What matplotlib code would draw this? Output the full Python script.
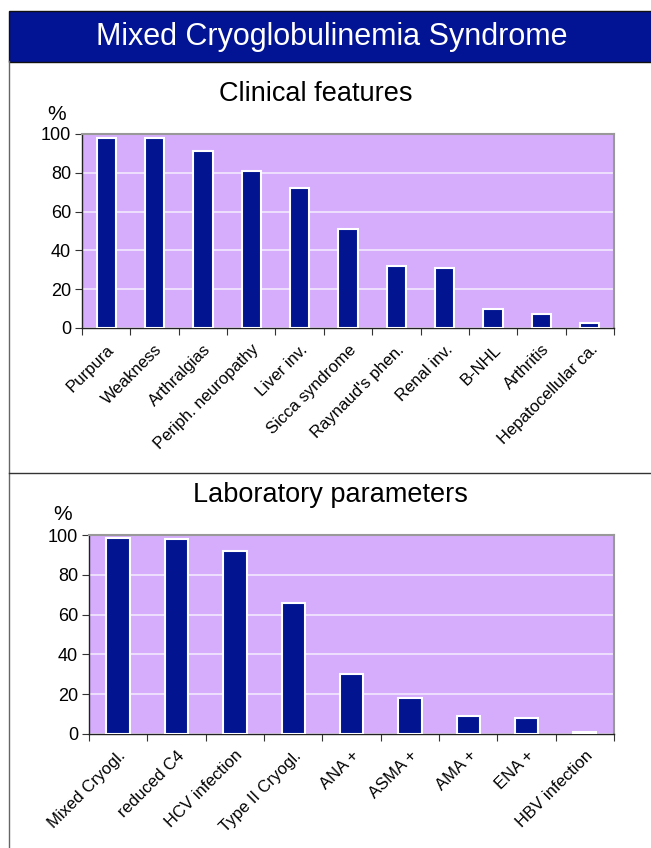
import numpy as np
import matplotlib.pyplot as plt
import matplotlib.transforms as mtransforms
from matplotlib.patches import Rectangle
from matplotlib.lines import Line2D

plt.rcParams['font.family'] = ['Liberation Sans', 'DejaVu Sans']

clin_labels = ['Purpura', 'Weakness', 'Arthralgias', 'Periph. neuropathy', 'Liver inv.',
               'Sicca syndrome', "Raynaud's phen.", 'Renal inv.', 'B-NHL', 'Arthritis',
               'Hepatocellular ca.']
clin_values = [98, 98, 91, 81, 72, 51, 32, 31, 10, 7, 2.5]

lab_labels = ['Mixed Cryogl.', 'reduced C4', 'HCV infection', 'Type II Cryogl.', 'ANA +',
              'ASMA +', 'AMA +', 'ENA +', 'HBV infection']
lab_values = [98.5, 98, 92, 66, 30, 18, 9, 8, 1]

yticks = [0, 20, 40, 60, 80, 100]

W, H = 651, 848
fig = plt.figure(figsize=(W / 100, H / 100), dpi=100)
fig.patch.set_facecolor('white')

def px(x0, y0, x1, y1):
    # pixel box (top-left origin) -> figure fraction rect
    return [x0 / W, 1 - y1 / H, (x1 - x0) / W, (y1 - y0) / H]

# header band and frame lines
fig.add_artist(Rectangle((8.5 / W, 1 - 61.5 / H), 1, 50.5 / H, transform=fig.transFigure,
                         facecolor='#021394', edgecolor='#111111', linewidth=1.0))
fig.text(332 / W, 1 - 37 / H, 'Mixed Cryoglobulinemia Syndrome', color='white',
         fontsize=22, ha='center', va='center')
fig.add_artist(Line2D([9 / W, 9 / W], [1 - 61 / H, 0], transform=fig.transFigure,
                      color='#666666', linewidth=1.0))
fig.add_artist(Line2D([9 / W, 1], [1 - 473 / H, 1 - 473 / H], transform=fig.transFigure,
                      color='#333333', linewidth=1.0))

def bar_panel(rect, labels, values, title, title_xy, pct_xy):
    ax = fig.add_axes(rect)
    n = len(values)
    x = np.arange(n)
    ax.set_facecolor('#d6adfd')
    ax.bar(x, values, width=0.4, color='#021490', edgecolor='white', linewidth=1.5, zorder=3)
    ax.set_xlim(-0.5, n - 0.5)
    ax.set_ylim(0, 100)
    ax.set_yticks(yticks)
    ax.yaxis.grid(True, color='#f2e8ff', linewidth=1.2, zorder=1)
    ax.set_axisbelow(True)
    ax.set_xticks(np.arange(n + 1) - 0.5)
    ax.set_xticklabels([])
    ax.set_xticks(x, minor=True)
    shift = mtransforms.ScaledTranslation(4 / 100, 0, fig.dpi_scale_trans)
    for t in ax.set_xticklabels(labels, minor=True, rotation=45, ha='right', va='top',
                                rotation_mode='anchor', fontsize=12):
        t.set_transform(t.get_transform() + shift)
    ax.tick_params(axis='x', which='minor', length=0, pad=10)
    ax.tick_params(axis='x', which='major', length=5, direction='out', color='#333333')
    ax.tick_params(axis='y', length=5, direction='out', labelsize=13, color='#333333', pad=3)
    for s in ['top', 'right']:
        ax.spines[s].set_color('#999999')
        ax.spines[s].set_linewidth(1.5)
    for s in ['left', 'bottom']:
        ax.spines[s].set_color('#222222')
        ax.spines[s].set_linewidth(1.0)
    fig.text(title_xy[0] / W, 1 - title_xy[1] / H, title, fontsize=19.5,
             ha='center', va='center')
    fig.text(pct_xy[0] / W, 1 - pct_xy[1] / H, '%', fontsize=15, ha='center', va='center')
    return ax

bar_panel(px(82, 134, 614, 328), clin_labels, clin_values, 'Clinical features',
          (316, 94), (57, 114))
bar_panel(px(89, 535, 614, 734), lab_labels, lab_values, 'Laboratory parameters',
          (330, 495), (63, 515))

fig.savefig('out.png', dpi=100)
